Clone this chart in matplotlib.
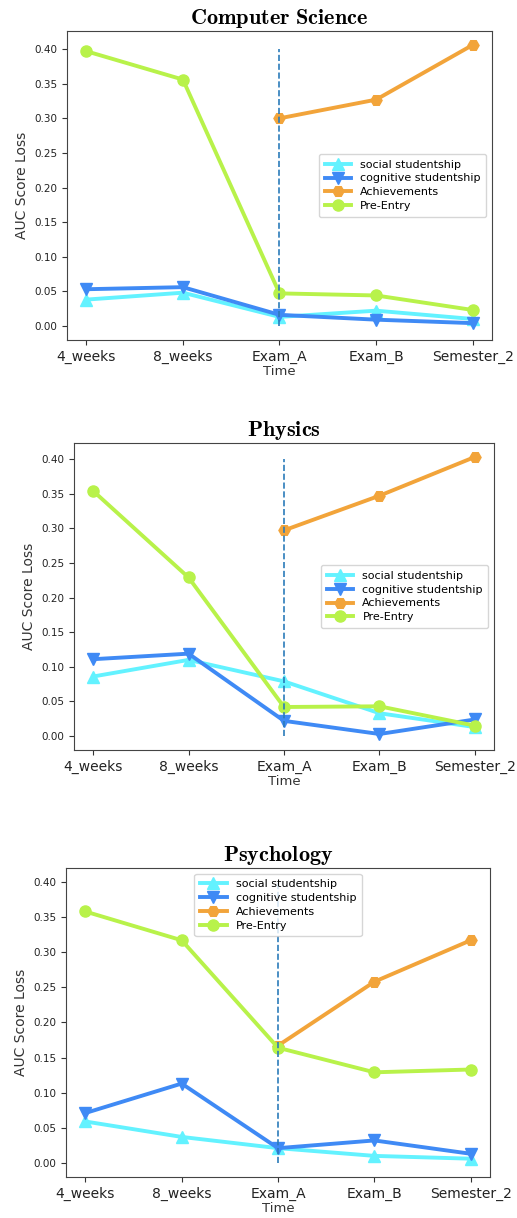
import numpy as np
import matplotlib
matplotlib.use("Agg")
import matplotlib.pyplot as plt

plt.rcParams['mathtext.fontset'] = 'cm'

times = ['4_weeks', '8_weeks', 'Exam_A', 'Exam_B', 'Semester_2']
subjects = ['Computer Science', 'Physics', 'Psychology']

# AUC score loss per subject, in the order of `times`
social = [
    [0.038, 0.048, 0.013, 0.022, 0.010],
    [0.086, 0.110, 0.079, 0.033, 0.013],
    [0.059, 0.037, 0.021, 0.010, 0.006],
]
cognitive = [
    [0.053, 0.056, 0.016, 0.009, 0.004],
    [0.111, 0.119, 0.022, 0.003, 0.024],
    [0.071, 0.113, 0.021, 0.032, 0.013],
]
achievements = [
    [np.nan, np.nan, 0.300, 0.327, 0.406],
    [np.nan, np.nan, 0.297, 0.347, 0.403],
    [np.nan, np.nan, 0.167, 0.258, 0.317],
]
pre_entry = [
    [0.397, 0.356, 0.047, 0.044, 0.023],
    [0.354, 0.229, 0.042, 0.043, 0.015],
    [0.358, 0.317, 0.164, 0.129, 0.133],
]

legend_locs = ['center right', 'center right', 'upper center']

# axes rectangles in figure fractions (517x1218 px)
rects = [
    [0.1296, 0.7209, 0.822, 0.2537],
    [0.1431, 0.3842, 0.8124, 0.2521],
    [0.1277, 0.0337, 0.8201, 0.2537],
]

fig = plt.figure(figsize=(5.17, 12.18), dpi=100)

for i, name in enumerate(subjects):
    ax = fig.add_axes(rects[i])
    x = np.arange(len(times))
    ax.plot(x, social[i], marker='^', color='#63f2ff', lw=2.8, ms=8, label='social studentship')
    ax.plot(x, cognitive[i], marker='v', color='#3f8af5', lw=2.8, ms=8, label='cognitive studentship')
    ax.plot(x, achievements[i], marker='H', color='#f2a43a', lw=2.8, ms=8, label='Achievements')
    ax.plot(x, pre_entry[i], marker='o', color='#b8f24a', lw=2.8, ms=8, label='Pre-Entry')
    ax.vlines(2, 0, 0.4, linestyles='dashed', colors='#2b7bba', lw=1.2)

    ax.set_xticks(x)
    ax.set_xticklabels(times, fontsize=10)
    ax.set_yticks(np.arange(0, 0.41, 0.05))
    ax.set_yticklabels(['%.2f' % v for v in np.arange(0, 0.41, 0.05)], fontsize=7.5)
    ax.tick_params(colors='#333333', labelcolor='#222222')
    ax.set_xlabel('Time', fontsize=9.5, color='#333333', labelpad=1)
    ax.set_ylabel('AUC Score Loss', fontsize=10, color='#333333')
    for s in ax.spines.values():
        s.set_color('#444444')
    ax.set_title(r'$\mathbf{' + name.replace(' ', r'\ ') + '}$', fontsize=16, pad=5)
    ax.legend(loc=legend_locs[i], fontsize=8, handlelength=2.4, borderpad=0.5,
              labelspacing=0.35)

fig.savefig('out.png', dpi=100)
